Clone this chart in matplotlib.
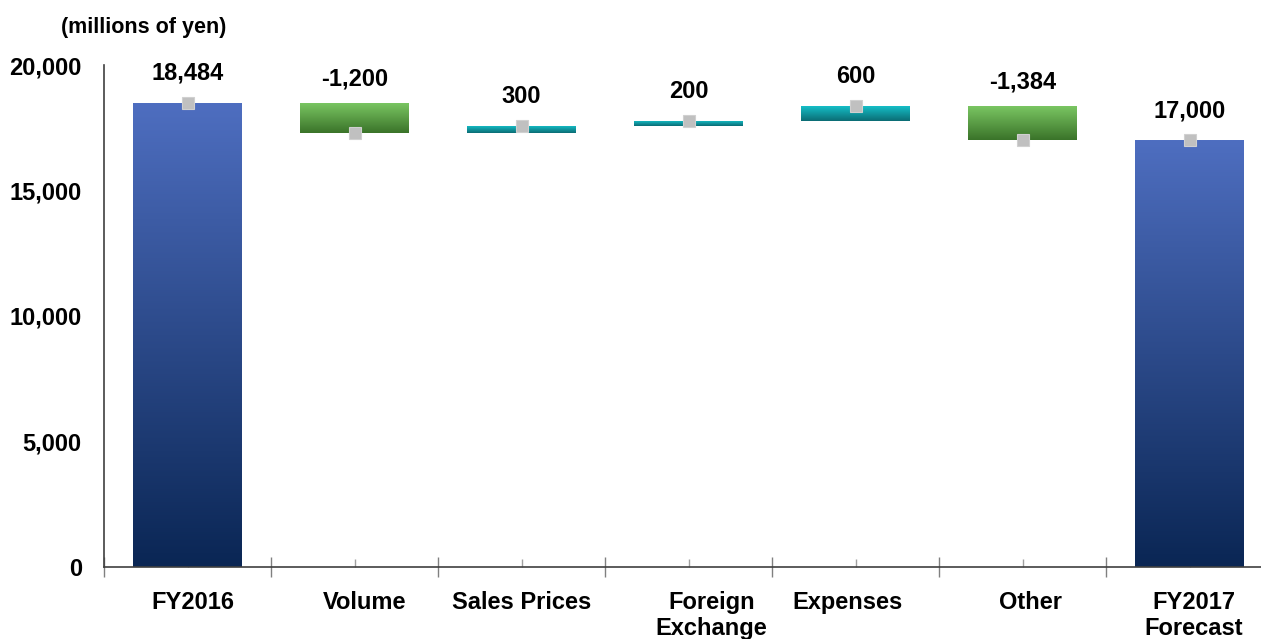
import numpy as np
import matplotlib
matplotlib.use("Agg")
import matplotlib.pyplot as plt
from matplotlib.transforms import ScaledTranslation
from matplotlib.colors import to_rgb

plt.rcParams['font.family'] = ['Liberation Sans', 'DejaVu Sans']
plt.rcParams['font.weight'] = 'bold'

# Operating income bridge, FY2016 -> FY2017 forecast (millions of yen)
categories = ["FY2016", "Volume", "Sales Prices", "Foreign\nExchange",
              "Expenses", "Other", "FY2017\nForecast"]
changes = [18484, -1200, 300, 200, 600, -1384]
forecast = 17000
value_labels = ["18,484", "-1,200", "300", "200", "600", "-1,384", "17,000"]
y_ticks = [0, 5000, 10000, 15000, 20000]
y_tick_labels = ["0", "5,000", "10,000", "15,000", "20,000"]

# Bar extents: totals start at zero, changes float on the running total
running = np.cumsum(changes)
starts = [0] + [running[i - 1] for i in range(1, len(changes))] + [0]
ends = list(running) + [forecast]
marker_vals = list(running) + [forecast]

# gradient colours (top, bottom)
blue = ("#4E6EC0", "#0A2654")
green = ("#7CC864", "#3A7329")
teal = ("#16C4CD", "#0B6C74")

def kind_colors(i):
    if i == 0 or i == len(categories) - 1:
        return blue
    return green if changes[i] < 0 else teal

fig = plt.figure(figsize=(12.61, 6.39), dpi=100)
ax = fig.add_axes([104 / 1261, 72 / 639, 1169 / 1261, 502 / 639])

width = 0.65
x = np.arange(len(categories))
for i in x:
    lo, hi = sorted((starts[i], ends[i]))
    bar = ax.bar(i, hi - lo, bottom=lo, width=width, color="none",
                 edgecolor="none", zorder=2)[0]
    top_c, bot_c = kind_colors(i)
    t = np.linspace(0, 1, 256)[:, None, None]
    grad = (1 - t) * np.array(to_rgb(bot_c)) + t * np.array(to_rgb(top_c))
    im = ax.imshow(grad, extent=[i - width / 2, i + width / 2, lo, hi],
                   origin="lower", aspect="auto", zorder=2, interpolation="bilinear")
    im.set_clip_path(bar)

# running-total markers
ax.plot(x, marker_vals, linestyle="none", marker="s", markersize=9,
        markerfacecolor="#C0C0C0", markeredgecolor="#D0D0D0",
        markeredgewidth=0.8, zorder=4)

# value labels above each bar
for i in x:
    top = max(starts[i], ends[i])
    neg = 0 < i < len(categories) - 1 and changes[i] < 0
    ax.annotate(value_labels[i], (i, top), xytext=(0, 9 if neg else 13),
                textcoords="offset points", ha="center", va="bottom",
                fontsize=17, fontweight="bold", color="black")

ax.set_xlim(-0.5, len(categories) - 0.5)
ax.set_ylim(0, 20000)

ax.set_yticks(y_ticks, y_tick_labels)
ax.tick_params(axis="y", length=0, pad=16, labelsize=17)

# category boundaries as major ticks, category names on minor ticks
ax.set_xticks(np.arange(-0.5, len(categories), 1.0))
ax.set_xticklabels([])
ax.tick_params(axis="x", which="major", direction="inout", length=15,
               width=1.0, color="#808080")
ax.set_xticks(x, categories, minor=True)
ax.tick_params(axis="x", which="minor", direction="in", length=6,
               width=1.0, color="#a0a0a0", pad=17, labelsize=17)
shifts = [5, 10, 0, 23, -8, 8, 4]
for lab, dx in zip(ax.get_xticklabels(minor=True), shifts):
    lab.set_transform(lab.get_transform() + ScaledTranslation(dx / 100, 0, fig.dpi_scale_trans))
    lab.set_linespacing(1.2)
    lab.set_fontweight("bold")

for s in ("top", "right"):
    ax.spines[s].set_visible(False)
ax.spines["left"].set_color("#404040")
ax.spines["bottom"].set_color("#404040")
ax.spines["left"].set_linewidth(1.2)
ax.spines["bottom"].set_linewidth(1.2)

fig.text(144 / 1261, 1 - 27 / 639, "(millions of yen)", ha="center", va="center",
         fontsize=15.5, fontweight="bold")

fig.savefig("out.png", dpi=100)
